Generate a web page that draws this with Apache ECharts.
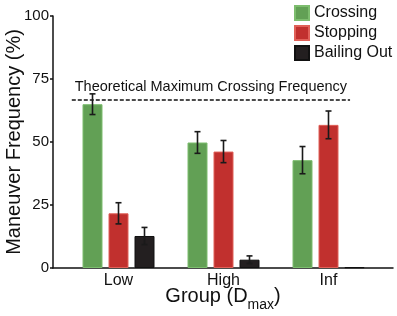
<!DOCTYPE html>
<html>
<head>
<meta charset="utf-8">
<script src="https://cdn.jsdelivr.net/npm/echarts@6/dist/echarts.min.js"></script>
<style>
  html, body { margin: 0; padding: 0; background: #fff; }
  #chart { width: 397px; height: 316px; }
</style>
</head>
<body>
<div id="chart"></div>
<script>
// data
var categories = ['Low', 'High', 'Inf'];
var crossing = [65.0, 49.8, 42.8];
var stopping = [21.7, 46.2, 56.8];
var bailing = [12.7, 3.3, 0.3];
var crossingErr = [4.1, 4.3, 5.4];
var stoppingErr = [4.2, 4.4, 5.5];
var bailingErr = [3.4, 1.5, 0];
var theoreticalMax = 66.7;

var font = 'Liberation Sans, Arial, Helvetica, sans-serif';
var barW = 20, barSpace = 6;   // px

// error bars drawn on top of each bar
function errorSeries(vals, errs, slot) {
    return {
        type: 'custom',
        xAxisIndex: 1,
        yAxisIndex: 1,
        z: 10,
        silent: true,
        data: vals.map(function (v, i) { return [i, v - errs[i], v + errs[i]]; }),
        renderItem: function (params, api) {
            if (api.value(2) - api.value(1) <= 0) return null;
            var off = (slot - 1) * (barW + barSpace);
            var lo = api.coord([api.value(0), api.value(1)]);
            var hi = api.coord([api.value(0), api.value(2)]);
            var x = lo[0] + off, cap = 3;
            var st = { stroke: '#1a1a1a', lineWidth: 1.6 };
            return {
                type: 'group',
                children: [
                    { type: 'line', shape: { x1: x, y1: lo[1], x2: x, y2: hi[1] }, style: st },
                    { type: 'line', shape: { x1: x - cap, y1: lo[1], x2: x + cap, y2: lo[1] }, style: st },
                    { type: 'line', shape: { x1: x - cap, y1: hi[1], x2: x + cap, y2: hi[1] }, style: st }
                ]
            };
        }
    };
}

var option = {
    animation: false,
    textStyle: { fontFamily: font },
    legend: {
        orient: 'vertical',
        left: 289,
        top: 0,
        icon: 'rect',
        itemWidth: 14,
        itemHeight: 14,
        itemGap: 4,
        itemTextGap: 1,
        textStyle: { fontSize: 16, color: '#111', fontFamily: font },
        data: ['Crossing', 'Stopping', 'Bailing Out']
    },
    grid: [
        { left: 53, right: 4, top: 16, bottom: 48, outerBoundsMode: 'none' },
        { left: 66, right: 16, top: 16, bottom: 48, outerBoundsMode: 'none' }
    ],
    xAxis: [
        {
            gridIndex: 0,
            type: 'value',
            min: -0.619,
            max: 2.619,
            axisLine: { show: true, onZero: false, lineStyle: { color: '#111', width: 1.5 } },
            axisTick: { show: false },
            axisLabel: { show: false },
            splitLine: { show: false },
            name: '{a|Group (D}{b|max}{a|)}',
            nameLocation: 'middle',
            nameGap: 18,
            nameTextStyle: {
                rich: {
                    a: { fontSize: 20, color: '#111', fontFamily: font, verticalAlign: 'top' },
                    b: { fontSize: 14, color: '#111', fontFamily: font, verticalAlign: 'bottom', padding: [12, 0, 0, 0] }
                }
            }
        },
        {
            gridIndex: 1,
            type: 'category',
            data: categories,
            axisLine: { show: false },
            axisTick: { show: false },
            axisLabel: { fontSize: 16, color: '#111', margin: 5 }
        }
    ],
    yAxis: [
        {
            gridIndex: 0,
            type: 'value',
            min: 0,
            max: 100,
            interval: 25,
            axisLine: { show: true, onZero: false, lineStyle: { color: '#111', width: 1.5 } },
            axisTick: { show: true, length: 3, lineStyle: { color: '#111', width: 1.5 } },
            axisLabel: { fontSize: 15, color: '#111', margin: 4 },
            splitLine: { show: false },
            name: 'Maneuver Frequency (%)',
            nameLocation: 'middle',
            nameGap: 29,
            nameMoveOverlap: false,
            nameTextStyle: { fontSize: 20, color: '#111' }
        },
        {
            gridIndex: 1,
            type: 'value',
            min: 0,
            max: 100,
            show: false
        }
    ],
    series: [
        {
            name: 'Crossing',
            type: 'bar',
            xAxisIndex: 1, yAxisIndex: 1,
            barWidth: barW,
            barGap: (barSpace / barW * 100) + '%',
            itemStyle: { color: '#62a055', borderColor: '#7dbd6e', borderWidth: 1 },
            data: crossing
        },
        {
            name: 'Stopping',
            type: 'bar',
            xAxisIndex: 1, yAxisIndex: 1,
            barWidth: barW,
            itemStyle: { color: '#c1302e', borderColor: '#e06058', borderWidth: 1 },
            data: stopping
        },
        {
            name: 'Bailing Out',
            type: 'bar',
            xAxisIndex: 1, yAxisIndex: 1,
            barWidth: barW,
            itemStyle: { color: '#231f20', borderColor: '#111', borderWidth: 1 },
            data: bailing
        },
        errorSeries(crossing, crossingErr, 0),
        errorSeries(stopping, stoppingErr, 1),
        errorSeries(bailing, bailingErr, 2),
        {
            // theoretical maximum line
            type: 'line',
            xAxisIndex: 0, yAxisIndex: 0,
            data: [],
            silent: true,
            markLine: {
                symbol: ['none', 'none'],
                silent: true,
                lineStyle: { color: '#111', type: [4, 2], width: 1.5 },
                label: {
                    show: true,
                    position: 'insideMiddleTop',
                    distance: 5,
                    fontSize: 14.5,
                    color: '#111',
                    fontFamily: font,
                    formatter: 'Theoretical Maximum Crossing Frequency'
                },
                data: [[{ coord: [-0.44, theoreticalMax] }, { coord: [2.21, theoreticalMax] }]]
            }
        }
    ]
};

var myChart = echarts.init(document.getElementById('chart'));
myChart.setOption(option);
</script>
</body>
</html>
